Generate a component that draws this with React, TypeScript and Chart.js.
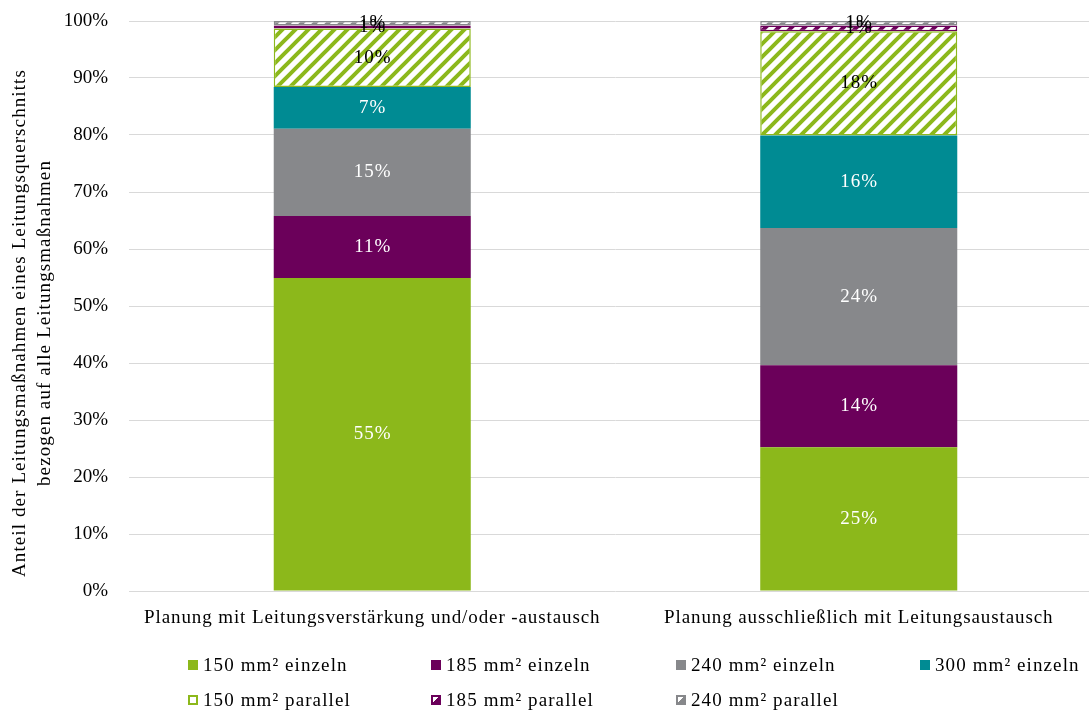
import React, { useEffect, useRef } from "react";
import { Chart, registerables } from "chart.js";

Chart.register(...registerables);

const categories = [
  "Planung mit Leitungsverstärkung und/oder -austausch",
  "Planung ausschließlich mit Leitungsaustausch",
];
const seriesNames = [
  "150 mm² einzeln",
  "185 mm² einzeln",
  "240 mm² einzeln",
  "300 mm² einzeln",
  "150 mm² parallel",
  "185 mm² parallel",
  "240 mm² parallel",
];
const s150Einzeln = [54.9, 25.2];
const s185Einzeln = [10.9, 14.4];
const s240Einzeln = [15.3, 24.1];
const s300Einzeln = [7.3, 16.2];
const s150Parallel = [10.3, 18.3];
const s185Parallel = [0.5, 1.0];
const s240Parallel = [0.8, 0.8];
const yTickValues = [0, 10, 20, 30, 40, 50, 60, 70, 80, 90, 100];
const yTitleLines = [
  "Anteil der Leitungsmaßnahmen eines Leitungsquerschnitts",
  "bezogen auf alle Leitungsmaßnahmen",
];

const GREEN = "#8CB81B";
const PURPLE = "#6B005A";
const GRAY = "#87888B";
const TEAL = "#008B93";
const FONT = "'Liberation Serif', 'Times New Roman', serif";

function makeHatch(ctx: CanvasRenderingContext2D, color: string) {
  const s = 13;
  const c = document.createElement("canvas");
  c.width = s;
  c.height = s;
  const g = c.getContext("2d")!;
  g.fillStyle = "#ffffff";
  g.fillRect(0, 0, s, s);
  g.strokeStyle = color;
  g.lineWidth = 4;
  g.beginPath();
  g.moveTo(0, s);
  g.lineTo(s, 0);
  g.moveTo(-s / 2, s / 2);
  g.lineTo(s / 2, -s / 2);
  g.moveTo(s / 2, s * 1.5);
  g.lineTo(s * 1.5, s / 2);
  g.stroke();
  return ctx.createPattern(c, "repeat")!;
}

const segmentLabels = {
  id: "segmentLabels",
  afterDatasetsDraw(chart: any) {
    const ctx = chart.ctx;
    ctx.save();
    ctx.font = `19px ${FONT}`;
    (ctx as any).letterSpacing = "1px";
    ctx.textAlign = "center";
    ctx.textBaseline = "middle";
    chart.data.datasets.forEach((ds: any, i: number) => {
      const meta = chart.getDatasetMeta(i);
      meta.data.forEach((el: any, j: number) => {
        const v = ds.data[j];
        const p = el.getProps(["x", "y", "base"], true);
        ctx.fillStyle = ds.labelColor;
        ctx.fillText(Math.round(v) + "%", p.x + 0.5, (p.y + p.base) / 2);
      });
    });
    ctx.restore();
  },
};

const axisTexts = {
  id: "axisTexts",
  afterDraw(chart: any) {
    const ctx = chart.ctx;
    const area = chart.chartArea;
    const xs = chart.scales.x;
    ctx.save();
    ctx.fillStyle = "#000000";
    ctx.textAlign = "center";
    ctx.textBaseline = "middle";
    ctx.font = `19px ${FONT}`;
    (ctx as any).letterSpacing = "0.9px";
    categories.forEach((c, i) => {
      ctx.fillText(c, xs.getPixelForTick(i), area.bottom + 27);
    });
    (ctx as any).letterSpacing = "1.1px";
    ctx.translate(0, 323);
    ctx.rotate(-Math.PI / 2);
    yTitleLines.forEach((line, i) => {
      ctx.fillText(line, 0, 20 + i * 25);
    });
    ctx.restore();
  },
};

type LegendItem = { name: string; color: string; hatch: boolean; x: number; y: number };

function legendItems(): LegendItem[] {
  const colors = [GREEN, PURPLE, GRAY, TEAL, GREEN, PURPLE, GRAY];
  const xs = [188, 431, 676, 920, 188, 431, 676];
  return seriesNames.map((name, i) => ({
    name,
    color: colors[i],
    hatch: i >= 4,
    x: xs[i],
    y: i < 4 ? 665 : 700,
  }));
}

export default function App() {
  const ref = useRef<HTMLCanvasElement>(null);

  useEffect(() => {
    const canvas = ref.current!;
    const ctx = canvas.getContext("2d")!;
    const mk = (label: string, data: number[], bg: any, border: string, bw: number, labelColor: string) => ({
      label,
      data,
      backgroundColor: bg,
      borderColor: border,
      borderWidth: bw,
      borderSkipped: false,
      labelColor,
    });
    const chart = new Chart(canvas, {
      type: "bar",
      data: {
        labels: categories,
        datasets: [
          mk(seriesNames[0], s150Einzeln, GREEN, GREEN, 0, "#ffffff"),
          mk(seriesNames[1], s185Einzeln, PURPLE, PURPLE, 0, "#ffffff"),
          mk(seriesNames[2], s240Einzeln, GRAY, GRAY, 0, "#ffffff"),
          mk(seriesNames[3], s300Einzeln, TEAL, TEAL, 0, "#ffffff"),
          mk(seriesNames[4], s150Parallel, makeHatch(ctx, GREEN), GREEN, 1.5, "#000000"),
          mk(seriesNames[5], s185Parallel, makeHatch(ctx, PURPLE), PURPLE, 1.5, "#000000"),
          mk(seriesNames[6], s240Parallel, makeHatch(ctx, GRAY), GRAY, 1.5, "#000000"),
        ] as any,
      },
      options: {
        animation: false,
        responsive: false,
        devicePixelRatio: 1,
        layout: { padding: { top: 21, right: 3, bottom: 112, left: 0 } },
        datasets: { bar: { categoryPercentage: 1, barPercentage: 0.405 } },
        plugins: {
          legend: { display: false },
          tooltip: { enabled: false },
        },
        scales: {
          x: {
            stacked: true,
            grid: { display: false },
            border: { display: false },
            ticks: { display: false },
          },
          y: {
            stacked: true,
            min: 0,
            max: 100,
            afterBuildTicks: (scale: any) => {
              scale.ticks = yTickValues.map((v) => ({ value: v }));
            },
            afterFit: (scale: any) => {
              scale.width = 129;
              scale.paddingTop = 0;
              scale.paddingBottom = 0;
            },
            grid: { color: "#D9D9D9", lineWidth: 1, drawTicks: false },
            border: { display: false },
            ticks: {
              color: "#000000",
              font: { family: FONT, size: 19 },
              padding: 21,
              callback: (v: any) => v + "%",
            },
          },
        },
      },
      plugins: [segmentLabels, axisTexts],
    });
    return () => chart.destroy();
  }, []);

  const items = legendItems();

  return (
    <div
      style={{
        position: "fixed",
        left: 0,
        top: 0,
        width: 1089,
        height: 711,
        overflow: "hidden",
        background: "#ffffff",
      }}
    >
      <canvas ref={ref} width={1105} height={711} style={{ position: "absolute", left: 0, top: 0, display: "block" }} />
      {items.map((it) => (
        <div
          key={it.name}
          style={{
            position: "absolute",
            left: it.x,
            top: it.y - 12,
            height: 24,
            display: "flex",
            alignItems: "center",
            fontFamily: FONT,
            fontSize: 19,
            letterSpacing: "1.1px",
            color: "#000000",
            whiteSpace: "nowrap",
          }}
        >
          <span
            style={{
              display: "inline-block",
              boxSizing: "border-box",
              width: 10,
              height: 10,
              marginRight: 5,
              background: it.hatch
                ? `linear-gradient(135deg, #ffffff 0 45%, ${it.color === GREEN ? "#ffffff" : it.color} 45% 100%)`
                : it.color,
              border: it.hatch ? `2px solid ${it.color}` : "none",
            }}
          />
          <span>{it.name}</span>
        </div>
      ))}
    </div>
  );
}
